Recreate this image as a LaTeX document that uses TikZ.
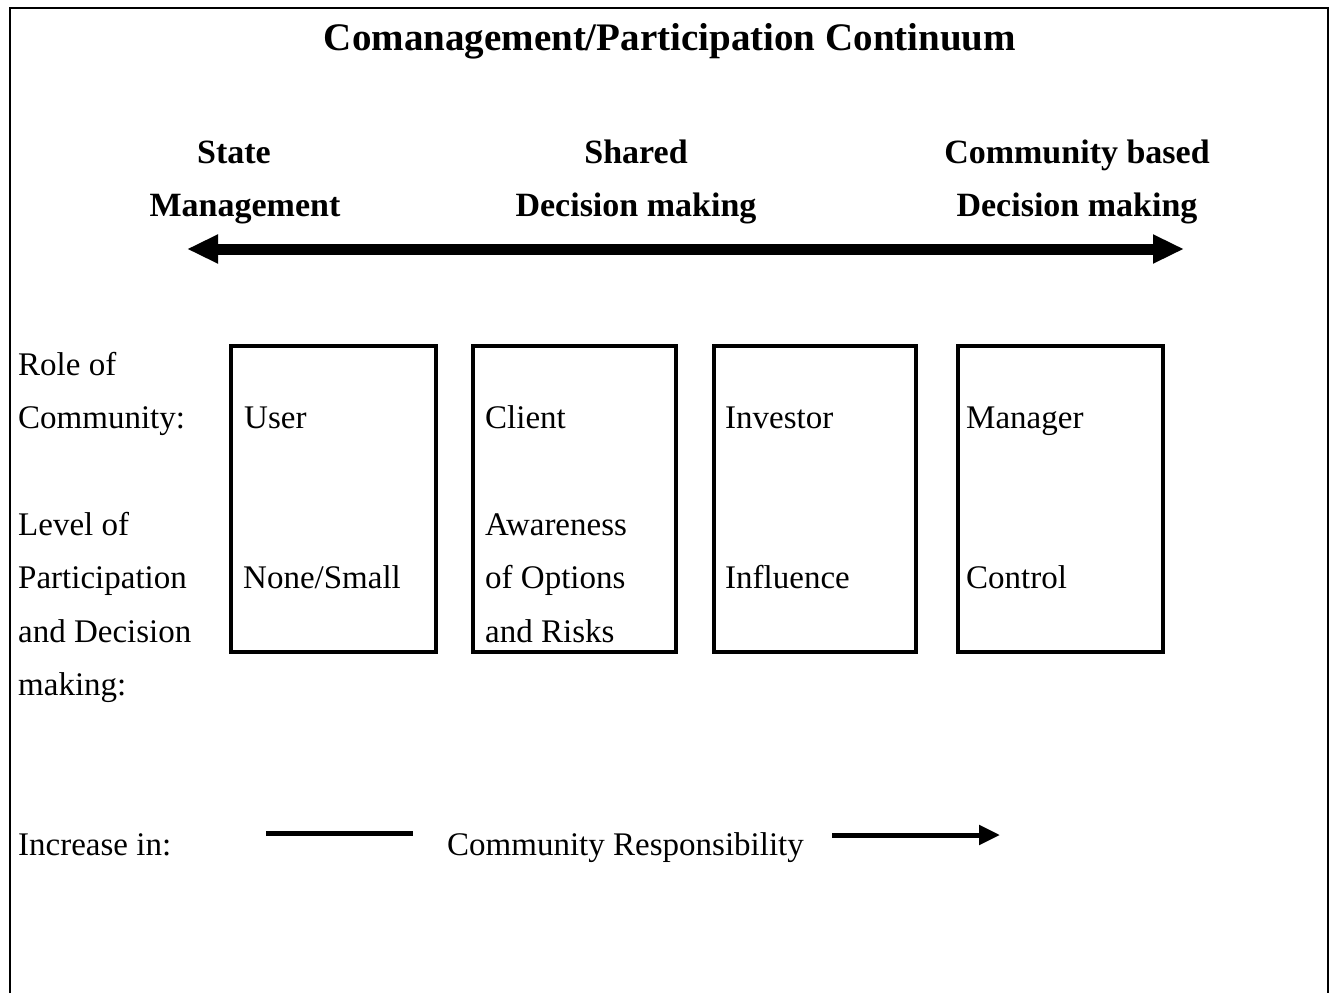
\documentclass[tikz,border=0pt]{standalone}
\usepackage{fontspec}
\setmainfont{Liberation Serif}
\usetikzlibrary{arrows.meta}
\begin{document}
\begin{tikzpicture}
[x=1pt,y=-1pt]
\tikzset{txt/.style={anchor=west,inner sep=0pt,font=\fontsize{33}{40}\selectfont,text height=23pt,text depth=8pt,yshift=-3pt}}
\tikzset{head/.style={inner sep=0pt,font=\fontsize{34}{40}\selectfont\bfseries,text height=24pt,text depth=8pt,yshift=-3pt}}
\tikzset{rolebox/.style={draw,line width=3.5pt,anchor=north west,inner sep=0pt}}
\useasboundingbox (0,0) rectangle (1332,993);
\draw [line width=2.5pt] (10,993) -- (10,8) -- (1328,8) -- (1328,993);
\node [inner sep=0pt,font=\fontsize{39}{44}\selectfont\bfseries,text height=27pt,text depth=9pt,yshift=-3pt] (title) at (670,38) {Comanagement/Participation Continuum};
\node [head] (st1) at (234,152) {State};
\node [head] (st2) at (245,205) {Management};
\node [head] (sh1) at (636,152) {Shared};
\node [head] (sh2) at (636,205) {Decision making};
\node [head] (cb1) at (1077,152) {Community based};
\node [head] (cb2) at (1077,205) {Decision making};
\coordinate (al) at (187,249);
\coordinate (ar) at (1184,249);
\draw [line width=11pt,{Triangle[length=31pt,width=27pt]}-{Triangle[length=31pt,width=27pt]}] (al) -- (ar);

\node [rolebox,minimum width=205pt,minimum height=306pt] (b1) at (229,344) {};
\node [rolebox,minimum width=203pt,minimum height=306pt] (b2) at (471,344) {};
\node [rolebox,minimum width=202pt,minimum height=306pt] (b3) at (712,344) {};
\node [rolebox,minimum width=205pt,minimum height=306pt] (b4) at (956,344) {};

\node [txt] (l1) at (18,365) {Role of};
\node [txt] (l2) at (18,418) {Community:};
\node [txt] (l3) at (18,525) {Level of};
\node [txt] (l4) at (18,578) {Participation};
\node [txt] (l5) at (18,632) {and Decision};
\node [txt] (l6) at (18,685) {making:};

\node [txt] (u1) at (244,418) {User};
\node [txt] (u2) at (243,578) {None/Small};
\node [txt] (c1) at (485,418) {Client};
\node [txt] (c2) at (485,525) {Awareness};
\node [txt] (c3) at (485,578) {of Options};
\node [txt] (c4) at (485,632) {and Risks};
\node [txt] (i1) at (725,418) {Investor};
\node [txt] (i2) at (725,578) {Influence};
\node [txt] (m1) at (966,418) {Manager};
\node [txt] (m2) at (966,578) {Control};

\node [txt] (inc) at (18,845) {Increase in:};
\node [txt] (resp) at (447,845) {Community Responsibility};
\coordinate (s1) at (266,833);
\coordinate (s2) at (413,833);
\coordinate (s3) at (832,835);
\coordinate (s4) at (1000,835);
\draw [line width=5pt] (s1) -- (s2);
\draw [line width=5pt,-{Triangle[length=21pt,width=19pt]}] (s3) -- (s4);
\end{tikzpicture}
\end{document}
